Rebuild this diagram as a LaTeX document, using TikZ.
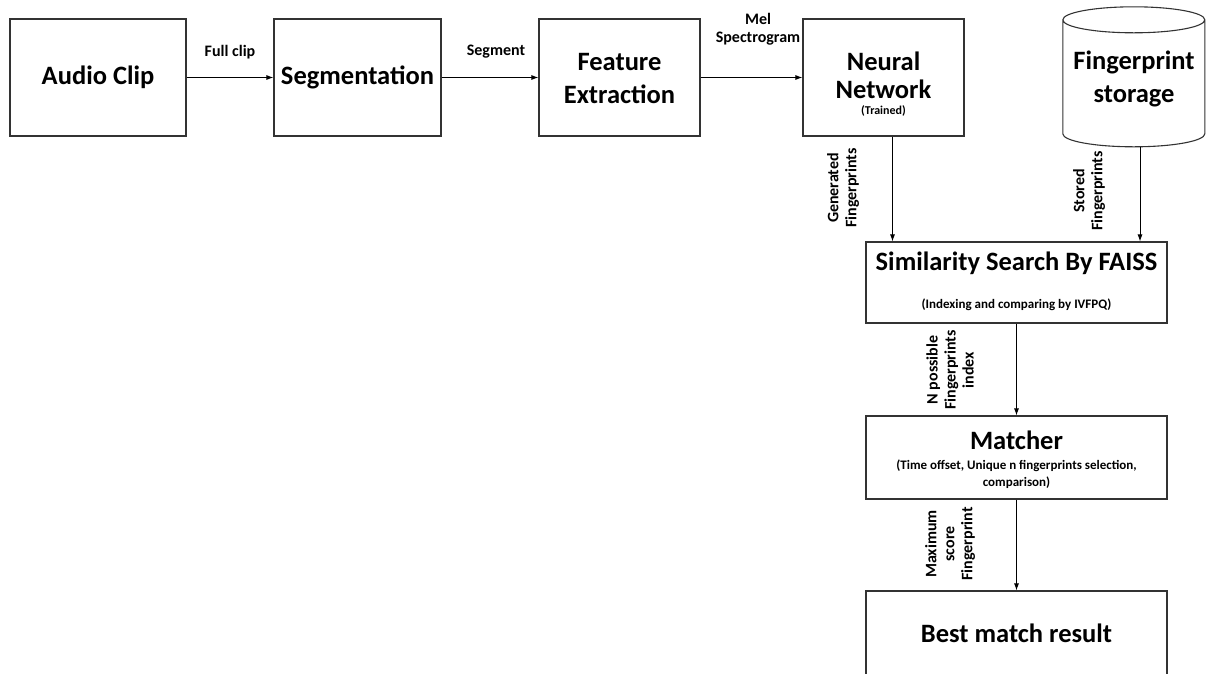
\documentclass[tikz,border=0pt]{standalone}
\usepackage{fontspec}
\setmainfont{Carlito}
\usetikzlibrary{arrows.meta}
\begin{document}
\begin{tikzpicture}[x=1pt,y=-1pt,
  box/.style={draw=black!80, line width=1.1pt, inner sep=0pt, align=center,
    font=\bfseries\fontsize{26.5}{33}\selectfont},
  title/.style={font=\bfseries\fontsize{26.5}{33}\selectfont, align=center, inner sep=0pt},
  subt/.style={font=\bfseries\fontsize{13}{17}\selectfont, align=center, inner sep=0pt},
  lbl/.style={font=\bfseries\fontsize{16}{18}\selectfont, align=center, inner sep=0pt},
  arr/.style={draw=black, line width=0.9pt, -{Latex[length=7pt,width=5pt]}}]
\useasboundingbox (0,0) rectangle (1206,673);

% pipeline along the top row
\node[box, minimum width=176, minimum height=117] (audio) at (98,77.5) {Audio Clip};
\node[box, minimum width=167, minimum height=117] (seg) at (357.5,77.5) {Segmentation};
\node[box, minimum width=161, minimum height=117] (feat) at (619.5,77.5) {};
\node[title] (feattxt) at (619.5,78.5) {Feature\\Extraction};
\node[box, minimum width=161, minimum height=117] (nn) at (883.5,77.5) {};
\node[title] (nntxt) at (883.5,75) {Neural\\[-5pt]Network};
\node[subt, font=\bfseries\fontsize{12}{14}\selectfont] (nnsub) at (883.5,111) {(Trained)};

% fingerprint storage (cylinder)
\node[inner sep=0pt, minimum width=142, minimum height=140] (store) at (1134,77) {};
\node[title] (storetxt) at (1134,79) {Fingerprint\\storage};
\draw[draw=black!80, line width=1.1pt]
  (store.north west) ++(0,13) coordinate (tl)
  (tl) arc[start angle=180, end angle=-180, x radius=71, y radius=13]
  (tl) -- ++(0,114) arc[start angle=180, end angle=360, x radius=71, y radius=-13]
  -- ++(0,-114);

% search and matching column
\node[box, minimum width=301, minimum height=81] (sim) at (1016.5,282.5) {};
\node[title] (simtxt) at (1016.5,263) {Similarity Search By FAISS};
\node[subt] (simsub) at (1016.5,305) {(Indexing and comparing by IVFPQ)};
\node[box, minimum width=301, minimum height=83] (match) at (1016.5,457.5) {};
\node[title] (matchtxt) at (1016.5,440) {Matcher};
\node[subt] (matchsub) at (1016.5,474) {(Time offset, Unique n fingerprints selection,\\comparison)};
\node[box, minimum width=301, minimum height=84] (best) at (1016.5,633) {Best match result};

% connectors
\draw[arr] (audio.east) -- (seg.west |- audio.east);
\draw[arr] (seg.east) -- (feat.west |- seg.east);
\draw[arr] (feat.east) -- (nn.west |- feat.east);
\draw[arr] ([xshift=9pt]nn.south) -- ([xshift=9pt]nn.south |- sim.north);
\draw[arr] ([xshift=6pt]store.south) -- ([xshift=6pt]store.south |- sim.north);
\draw[arr] (sim.south) -- (match.north);
\draw[arr] (match.south) -- (best.north);

% connector labels
\node[lbl] (lfull) at (230,52) {Full clip};
\node[lbl] (lseg) at (496,52) {Segment};
\node[lbl] (lmel) at (758,29) {Mel\\Spectrogram};
\node[lbl, rotate=90] (lgen) at (843,188) {Generated\\Fingerprints};
\node[lbl, rotate=90] (lsto) at (1089,191) {Stored\\Fingerprints};
\node[lbl, rotate=90] (lnpos) at (950,370) {N possible\\Fingerprints\\index};
\node[lbl, rotate=90] (lmax) at (950,544) {Maximum\\score\\Fingerprint};
\end{tikzpicture}
\end{document}
